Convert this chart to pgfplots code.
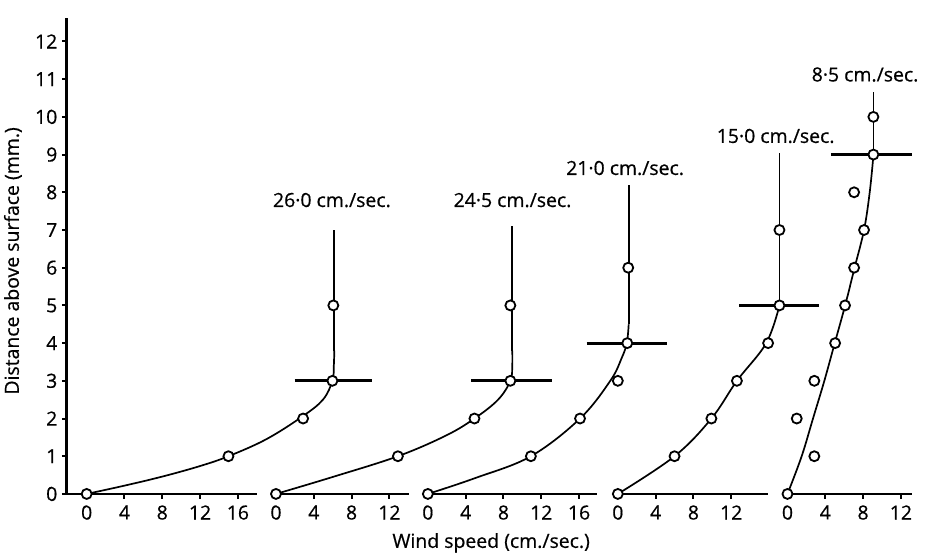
\documentclass[border=0pt]{standalone}
\usepackage{pgfplots}
\usepackage{pgfplotstable}
\pgfplotsset{compat=1.18}
\usepackage{fontspec}
\setmainfont{Open Sans}[FakeBold=0.6]
\newcommand\lblfont{\fontsize{19.5}{20}\selectfont}

% profile data: local wind speed (cm/sec), height (mm)
\pgfplotstableread{
v h
0 0
15.0 1
22.9 2
26.0 3
26.1 5
}\pA
\pgfplotstableread{
v h
0 0
12.9 1
21.0 2
24.8 3
24.8 5
}\pB
\pgfplotstableread{
v h
0 0
10.9 1
16.1 2
20.1 3
21.1 4
21.2 6
}\pC
\pgfplotstableread{
v h
0 0
6.0 1
9.9 2
12.6 3
15.9 4
17.1 5
17.1 7
}\pD
\pgfplotstableread{
v h
0 0
2.84 1
0.98 2
2.84 3
5.04 4
6.09 5
7.05 6
8.1 7
7.05 8
9.09 9
9.09 10
}\pE

\begin{document}
\begin{tikzpicture}
\begin{axis}[
  x=9.45bp, y=37.7bp,
  xmin=-2.1, xmax=88.7, ymin=0, ymax=12.63,
  axis lines*=left,
  x axis line style={draw=none},
  y axis line style={line width=2.8bp},
  clip=false,
  xtick={0,4,8,12,16,20.03,24.03,28.03,32.03,36.1,40.1,44.1,48.1,52.1,56.2,60.2,64.2,68.2,74.15,78.15,82.15,86.15},
  xticklabels={0,4,8,12,16,0,4,8,12,0,4,8,12,16,0,4,8,12,0,4,8,12},
  ytick={0,1,2,3,4,5,6,7,8,9,10,11,12},
  tick align=outside,
  major tick length=5bp,
  tick style={line width=2bp, black},
  tick label style={font=\lblfont},
  /pgf/number format/assume math mode=true,
  yticklabel style={xshift=-1bp},
  xticklabel style={yshift=-3bp},
]
% invisible frame for picture extent
\path (axis cs:-9.17,-1.62) rectangle (axis cs:88.7,13.10);

% baselines
\addplot[line width=2.8bp, black] coordinates {(-2.1,0) (18.0,0)};
\addplot[line width=2.8bp, black] coordinates {(20.03,0) (34.1,0)};
\addplot[line width=2.8bp, black] coordinates {(36.1,0) (54.0,0)};
\addplot[line width=2.8bp, black] coordinates {(56.2,0) (72.1,0)};
\addplot[line width=2.8bp, black] coordinates {(74.15,0) (87.3,0)};

% fitted profiles (curves)
\addplot[line width=1.7bp, black, smooth, tension=0.6] coordinates {(0,0) (4,0.22) (8,0.46) (12,0.74) (15,1) (19,1.45) (22.8,2.05) (25,2.5) (26.0,3) (26.15,3.4) (26.2,3.8)};
\addplot[line width=1.7bp, black] coordinates {(26.2,3.8) (26.2,7.0)};

\addplot[line width=1.7bp, black, smooth, tension=0.6] coordinates {(20.03,0) (26.03,0.45) (32.93,1) (38.03,1.55) (41.03,2) (43.53,2.5) (44.83,3) (45.03,3.4) (45.03,3.8)};
\addplot[line width=1.7bp, black] coordinates {(45.03,3.8) (45.03,7.1)};

\addplot[line width=1.7bp, black, smooth, tension=0.6] coordinates {(36.1,0) (41.1,0.42) (47.0,1) (52.2,2) (55.4,3) (56.6,3.6) (57.15,4) (57.35,4.5)};
\addplot[line width=1.7bp, black] coordinates {(57.35,4.5) (57.35,8.2)};

\addplot[line width=1.7bp, black, smooth, tension=0.6] coordinates {(56.2,0) (62.2,1) (66.1,2) (68.8,3) (71.9,4) (73.3,5)};
\addplot[line width=1.7bp, black] coordinates {(73.3,5) (73.3,9.04)};

\addplot[line width=1.7bp, black, smooth, tension=0.6] coordinates {(74.15,0) (75.65,1) (76.85,2) (78.05,3) (79.15,4) (80.25,5) (81.25,6) (82.25,7) (82.85,8) (83.25,9)};
\addplot[line width=1.7bp, black] coordinates {(83.25,9) (83.25,10.67)};

% horizontal bars
\addplot[line width=2.8bp, black] coordinates {(22.0,3) (30.2,3)};
\addplot[line width=2.8bp, black] coordinates {(40.7,3) (49.2,3)};
\addplot[line width=2.8bp, black] coordinates {(52.9,4) (61.4,4)};
\addplot[line width=2.8bp, black] coordinates {(69.06,5) (77.49,5)};
\addplot[line width=2.8bp, black] coordinates {(78.73,9) (87.3,9)};

% observed points
\pgfplotsset{obs/.style={only marks, mark=*, mark size=5bp, mark options={fill=white, draw=black, line width=1.8bp}}}
\addplot[obs] table[x expr=\thisrow{v}+0, y=h] {\pA};
\addplot[obs] table[x expr=\thisrow{v}+20.03, y=h] {\pB};
\addplot[obs] table[x expr=\thisrow{v}+36.1, y=h] {\pC};
\addplot[obs] table[x expr=\thisrow{v}+56.2, y=h] {\pD};
\addplot[obs] table[x expr=\thisrow{v}+74.15, y=h] {\pE};

% labels
\node[anchor=base, font=\lblfont] at (axis cs:25.95,7.61) {26·0 cm./sec.};
\node[anchor=base, font=\lblfont] at (axis cs:45.06,7.61) {24·5 cm./sec.};
\node[anchor=base, font=\lblfont] at (axis cs:56.97,8.46) {21·0 cm./sec.};
\node[anchor=base, font=\lblfont] at (axis cs:72.9,9.31) {15·0 cm./sec.};
\node[anchor=base, font=\lblfont] at (axis cs:82.36,10.94) {8·5 cm./sec.};

\node[anchor=base, font=\lblfont] at (axis cs:42.8,-1.43) {Wind speed (cm./sec.)};
\node[rotate=90, font=\lblfont] at (axis cs:-7.8,6.18) {Distance above surface (mm.)};
\end{axis}
\end{tikzpicture}
\end{document}
